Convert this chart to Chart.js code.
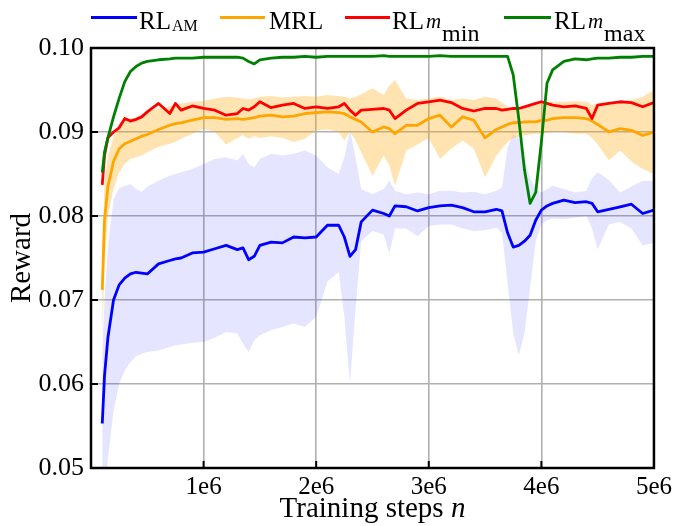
<!DOCTYPE html>
<html>
<head>
<meta charset="utf-8">
<script src="https://cdn.jsdelivr.net/npm/chart.js@4.4.0/dist/chart.umd.min.js"></script>
<style>
  html, body { margin: 0; padding: 0; background: #fff; }
</style>
</head>
<body>
<canvas id="myChart" width="676" height="526"></canvas>
<script>
// training steps (millions)
const steps = [0.10, 0.12, 0.15, 0.20, 0.25, 0.30, 0.35, 0.40, 0.45, 0.50,
  0.60, 0.70, 0.75, 0.80, 0.90, 1.00, 1.10, 1.20, 1.30, 1.35,
  1.40, 1.45, 1.50, 1.60, 1.70, 1.80, 1.90, 2.00, 2.10, 2.20,
  2.25, 2.30, 2.35, 2.40, 2.50, 2.60, 2.65, 2.70, 2.80, 2.90,
  3.00, 3.10, 3.20, 3.30, 3.40, 3.50, 3.60, 3.65, 3.70, 3.75,
  3.80, 3.85, 3.90, 3.95, 4.00, 4.05, 4.10, 4.20, 4.30, 4.40,
  4.45, 4.50, 4.60, 4.70, 4.80, 4.90, 5.00];

// RL_m_max
const rlMax = [0.0852, 0.0876, 0.0893, 0.0918, 0.0940, 0.0960, 0.0972, 0.0978, 0.0982, 0.0984,
  0.0986, 0.0987, 0.0988, 0.0988, 0.0988, 0.0989, 0.0989, 0.0989, 0.0989, 0.0988,
  0.0984, 0.0981, 0.0986, 0.0988, 0.0989, 0.0989, 0.0990, 0.0989, 0.0990, 0.0990,
  0.0990, 0.0990, 0.0990, 0.0990, 0.0990, 0.0991, 0.0990, 0.0990, 0.0990, 0.0990,
  0.0990, 0.0991, 0.0990, 0.0990, 0.0990, 0.0990, 0.0990, 0.0990, 0.0990, 0.0968,
  0.0915, 0.0855, 0.0815, 0.0828, 0.0888, 0.0958, 0.0974, 0.0984, 0.0987, 0.0986,
  0.0987, 0.0988, 0.0988, 0.0989, 0.0989, 0.0990, 0.0990];

// RL_m_min
const rlMin = [0.0837, 0.0872, 0.0893, 0.0900, 0.0905, 0.0916, 0.0913, 0.0915, 0.0918, 0.0924,
  0.0934, 0.0922, 0.0934, 0.0926, 0.0931, 0.0928, 0.0926, 0.0920, 0.0922, 0.0928,
  0.0926, 0.0930, 0.0936, 0.0929, 0.0932, 0.0934, 0.0928, 0.0930, 0.0928, 0.0930,
  0.0934, 0.0926, 0.0920, 0.0926, 0.0927, 0.0928, 0.0926, 0.0916, 0.0926, 0.0934,
  0.0936, 0.0938, 0.0935, 0.0928, 0.0925, 0.0928, 0.0928, 0.0926, 0.0927, 0.0928,
  0.0928, 0.0930, 0.0932, 0.0934, 0.0936, 0.0934, 0.0932, 0.0930, 0.0931, 0.0928,
  0.0916, 0.0932, 0.0934, 0.0936, 0.0935, 0.0930, 0.0935];

// MRL mean and band
const mrlMean = [0.0712, 0.0795, 0.0835, 0.0865, 0.0880, 0.0886, 0.0889, 0.0892, 0.0895, 0.0897,
  0.0903, 0.0908, 0.0910, 0.0911, 0.0914, 0.0917, 0.0917, 0.0915, 0.0916, 0.0915,
  0.0916, 0.0917, 0.0919, 0.0920, 0.0918, 0.0919, 0.0922, 0.0923, 0.0924, 0.0923,
  0.0922, 0.0918, 0.0915, 0.0912, 0.0900, 0.0906, 0.0904, 0.0898, 0.0908, 0.0908,
  0.0916, 0.0920, 0.0906, 0.0918, 0.0914, 0.0893, 0.0903, 0.0906, 0.0909, 0.0911,
  0.0911, 0.0912, 0.0912, 0.0912, 0.0914, 0.0914, 0.0916, 0.0917, 0.0917, 0.0916,
  0.0913, 0.0909, 0.0900, 0.0904, 0.0902, 0.0896, 0.0900];
const mrlHigh = [0.0760, 0.0840, 0.0870, 0.0895, 0.0910, 0.0915, 0.0916, 0.0917, 0.0920, 0.0925,
  0.0928, 0.0931, 0.0932, 0.0934, 0.0936, 0.0937, 0.0940, 0.0942, 0.0941, 0.0940,
  0.0939, 0.0940, 0.0942, 0.0943, 0.0941, 0.0942, 0.0943, 0.0942, 0.0944, 0.0943,
  0.0942, 0.0940, 0.0942, 0.0945, 0.0952, 0.0944, 0.0955, 0.0962, 0.0940, 0.0938,
  0.0940, 0.0942, 0.0938, 0.0940, 0.0938, 0.0942, 0.0940, 0.0935, 0.0930, 0.0928,
  0.0928, 0.0930, 0.0932, 0.0934, 0.0936, 0.0936, 0.0936, 0.0936, 0.0937, 0.0936,
  0.0932, 0.0934, 0.0936, 0.0936, 0.0938, 0.0942, 0.0950];
const mrlLow = [0.0650, 0.0740, 0.0800, 0.0832, 0.0852, 0.0862, 0.0868, 0.0870, 0.0872, 0.0876,
  0.0882, 0.0886, 0.0888, 0.0892, 0.0898, 0.0904, 0.0900, 0.0885, 0.0893, 0.0896,
  0.0892, 0.0895, 0.0893, 0.0895, 0.0893, 0.0888, 0.0892, 0.0902, 0.0903, 0.0900,
  0.0890, 0.0900, 0.0890, 0.0876, 0.0848, 0.0872, 0.0860, 0.0836, 0.0878, 0.0885,
  0.0893, 0.0868, 0.0880, 0.0890, 0.0880, 0.0846, 0.0872, 0.0880, 0.0888, 0.0893,
  0.0894, 0.0896, 0.0897, 0.0898, 0.0898, 0.0899, 0.0900, 0.0900, 0.0898, 0.0898,
  0.0893, 0.0885, 0.0866, 0.0878, 0.0865, 0.0856, 0.0850];

// RL_AM mean and band
const amMean = [0.0553, 0.0610, 0.0655, 0.0700, 0.0718, 0.0726, 0.0731, 0.0733, 0.0732, 0.0731,
  0.0743, 0.0747, 0.0749, 0.0750, 0.0756, 0.0757, 0.0761, 0.0765, 0.0760, 0.0762,
  0.0748, 0.0752, 0.0765, 0.0769, 0.0768, 0.0775, 0.0774, 0.0775, 0.0789, 0.0789,
  0.0775, 0.0752, 0.0760, 0.0793, 0.0807, 0.0803, 0.0800, 0.0812, 0.0811, 0.0806,
  0.0810, 0.0812, 0.0813, 0.0810, 0.0805, 0.0805, 0.0808, 0.0806, 0.0780, 0.0763,
  0.0765, 0.0770, 0.0777, 0.0795, 0.0807, 0.0812, 0.0815, 0.0819, 0.0816, 0.0817,
  0.0815, 0.0805, 0.0808, 0.0811, 0.0814, 0.0803, 0.0807];
const amHigh = [0.0640, 0.0700, 0.0763, 0.0820, 0.0833, 0.0836, 0.0838, 0.0832, 0.0829, 0.0835,
  0.0842, 0.0848, 0.0850, 0.0852, 0.0856, 0.0862, 0.0868, 0.0870, 0.0866, 0.0874,
  0.0862, 0.0858, 0.0868, 0.0874, 0.0872, 0.0874, 0.0878, 0.0872, 0.0858, 0.0850,
  0.0870, 0.0902, 0.0870, 0.0832, 0.0826, 0.0832, 0.0842, 0.0830, 0.0826, 0.0828,
  0.0826, 0.0830, 0.0830, 0.0828, 0.0829, 0.0826, 0.0830, 0.0834, 0.0882, 0.0897,
  0.0892, 0.0870, 0.0845, 0.0832, 0.0828, 0.0832, 0.0836, 0.0832, 0.0828, 0.0830,
  0.0845, 0.0852, 0.0843, 0.0828, 0.0835, 0.0842, 0.0842];
const amLow = [0.0440, 0.0470, 0.0510, 0.0568, 0.0600, 0.0616, 0.0626, 0.0633, 0.0636, 0.0638,
  0.0640, 0.0644, 0.0646, 0.0647, 0.0649, 0.0650, 0.0655, 0.0662, 0.0660, 0.0648,
  0.0638, 0.0652, 0.0658, 0.0664, 0.0668, 0.0672, 0.0668, 0.0680, 0.0722, 0.0733,
  0.0680, 0.0600, 0.0690, 0.0770, 0.0782, 0.0778, 0.0755, 0.0785, 0.0785, 0.0776,
  0.0788, 0.0790, 0.0790, 0.0785, 0.0782, 0.0783, 0.0786, 0.0780, 0.0720, 0.0660,
  0.0634, 0.0660, 0.0715, 0.0770, 0.0790, 0.0795, 0.0797, 0.0796, 0.0798, 0.0800,
  0.0785, 0.0760, 0.0790, 0.0793, 0.0785, 0.0765, 0.0768];

const xTicks = [1, 2, 3, 4, 5];          // x 1e6
const yTicks = [0.05, 0.06, 0.07, 0.08, 0.09, 0.10];

const FONT = 'Liberation Serif';

function pts(vals) {
  return vals.map((v, i) => ({ x: steps[i] * 1e6, y: v }));
}

function band(vals, fill, color, order) {
  return {
    data: pts(vals), fill: fill, backgroundColor: color,
    borderWidth: 0, pointRadius: 0, order: order
  };
}

function line(vals, color, order) {
  return {
    data: pts(vals), borderColor: color, borderWidth: 2.8,
    pointRadius: 0, fill: false, tension: 0,
    borderJoinStyle: 'round', order: order
  };
}

// legend: line sample, then text pieces [text, font, baseline, gap before]
const legendItems = [
  { color: '#0000ff', x0: 91, x1: 137, tx: 139, runs: [
    ['RL', '25px ' + FONT, 29, 0], ['AM', '16px ' + FONT, 31, 1]] },
  { color: '#ffa500', x0: 220, x1: 265, tx: 269, runs: [
    ['MRL', '25px ' + FONT, 29, 0]] },
  { color: '#ff0000', x0: 345, x1: 390, tx: 392, runs: [
    ['RL', '25px ' + FONT, 29, 0], ['m', 'italic 21px ' + FONT, 28, 2],
    ['min', '24px ' + FONT, 41, 1]] },
  { color: '#008000', x0: 504, x1: 551, tx: 554, runs: [
    ['RL', '25px ' + FONT, 29, 0], ['m', 'italic 21px ' + FONT, 28, 2],
    ['max', '24px ' + FONT, 41, 1]] }
];

const decor = {
  id: 'decor',
  afterDraw(chart) {
    const ctx = chart.ctx;
    const a = chart.chartArea;
    const xs = chart.scales.x, ys = chart.scales.y;
    ctx.save();
    // frame
    ctx.strokeStyle = '#000';
    ctx.lineWidth = 2.5;
    ctx.strokeRect(a.left, a.top, a.right - a.left, a.bottom - a.top);
    // inward ticks
    ctx.lineWidth = 2;
    ctx.beginPath();
    xTicks.forEach(t => {
      const px = xs.getPixelForValue(t * 1e6);
      ctx.moveTo(px, a.bottom); ctx.lineTo(px, a.bottom - 7);
    });
    yTicks.forEach(t => {
      const py = ys.getPixelForValue(t);
      ctx.moveTo(a.left, py); ctx.lineTo(a.left + 7, py);
    });
    ctx.stroke();

    ctx.fillStyle = '#000';
    // x title with italic n
    ctx.textBaseline = 'alphabetic';
    ctx.textAlign = 'left';
    const f1 = '29px ' + FONT, f2 = 'italic 29px ' + FONT;
    ctx.font = f1;
    const w1 = ctx.measureText('Training steps ').width;
    ctx.font = f2;
    const w2 = ctx.measureText('n').width;
    let tx = (a.left + a.right) / 2 - (w1 + w2) / 2;
    ctx.font = f1; ctx.fillText('Training steps ', tx, 517);
    ctx.font = f2; ctx.fillText('n', tx + w1, 517);

    // y title
    ctx.save();
    ctx.translate(22, (a.top + a.bottom) / 2);
    ctx.rotate(-Math.PI / 2);
    ctx.textAlign = 'center';
    ctx.textBaseline = 'middle';
    ctx.font = '29px ' + FONT;
    ctx.fillText('Reward', 0, 0);
    ctx.restore();

    // legend
    legendItems.forEach(it => {
      ctx.strokeStyle = it.color;
      ctx.lineWidth = 3;
      ctx.beginPath();
      ctx.moveTo(it.x0, 17.5); ctx.lineTo(it.x1, 17.5);
      ctx.stroke();
      ctx.textAlign = 'left';
      ctx.textBaseline = 'alphabetic';
      let x = it.tx;
      it.runs.forEach(r => {
        ctx.font = r[1];
        x += r[3];
        ctx.fillText(r[0], x, r[2]);
        x += ctx.measureText(r[0]).width;
      });
    });
    ctx.restore();
  }
};

let ctx = document.getElementById('myChart').getContext('2d');
let chart = new Chart(ctx, {
  type: 'line',
  data: {
    datasets: [
      band(amLow, false, 'rgba(0,0,0,0)', 10),
      band(amHigh, '-1', 'rgba(0,0,255,0.1)', 9),
      band(mrlLow, false, 'rgba(0,0,0,0)', 8),
      band(mrlHigh, '-1', 'rgba(255,165,0,0.3)', 7),
      line(amMean, '#0000ff', 4),
      line(mrlMean, '#ffa500', 3),
      line(rlMin, '#ff0000', 2),
      line(rlMax, '#008000', 1)
    ]
  },
  options: {
    responsive: false,
    animation: false,
    devicePixelRatio: 1,
    layout: { padding: { top: 48, right: 21, left: 0, bottom: 0 } },
    plugins: {
      legend: { display: false },
      tooltip: { enabled: false },
      filler: { drawTime: 'beforeDatasetsDraw' }
    },
    scales: {
      x: {
        type: 'linear',
        min: 0,
        max: 5e6,
        afterBuildTicks: s => { s.ticks = xTicks.map(v => ({ value: v * 1e6 })); },
        afterFit: s => { s.height = 58; },
        grid: { color: '#b0b0b0', lineWidth: 1.6, drawTicks: false },
        border: { display: false },
        ticks: {
          color: '#000', padding: 4, maxRotation: 0,
          font: { family: FONT, size: 25 },
          callback: v => (v / 1e6) + 'e6'
        }
      },
      y: {
        min: 0.05,
        max: 0.10,
        afterBuildTicks: s => { s.ticks = yTicks.map(v => ({ value: v })); },
        afterFit: s => { s.width = 91; },
        grid: { color: '#b0b0b0', lineWidth: 1.6, drawTicks: false },
        border: { display: false },
        ticks: {
          color: '#000', padding: 7,
          font: { family: FONT, size: 26 },
          callback: v => v.toFixed(2)
        }
      }
    }
  },
  plugins: [decor]
});
</script>
</body>
</html>
